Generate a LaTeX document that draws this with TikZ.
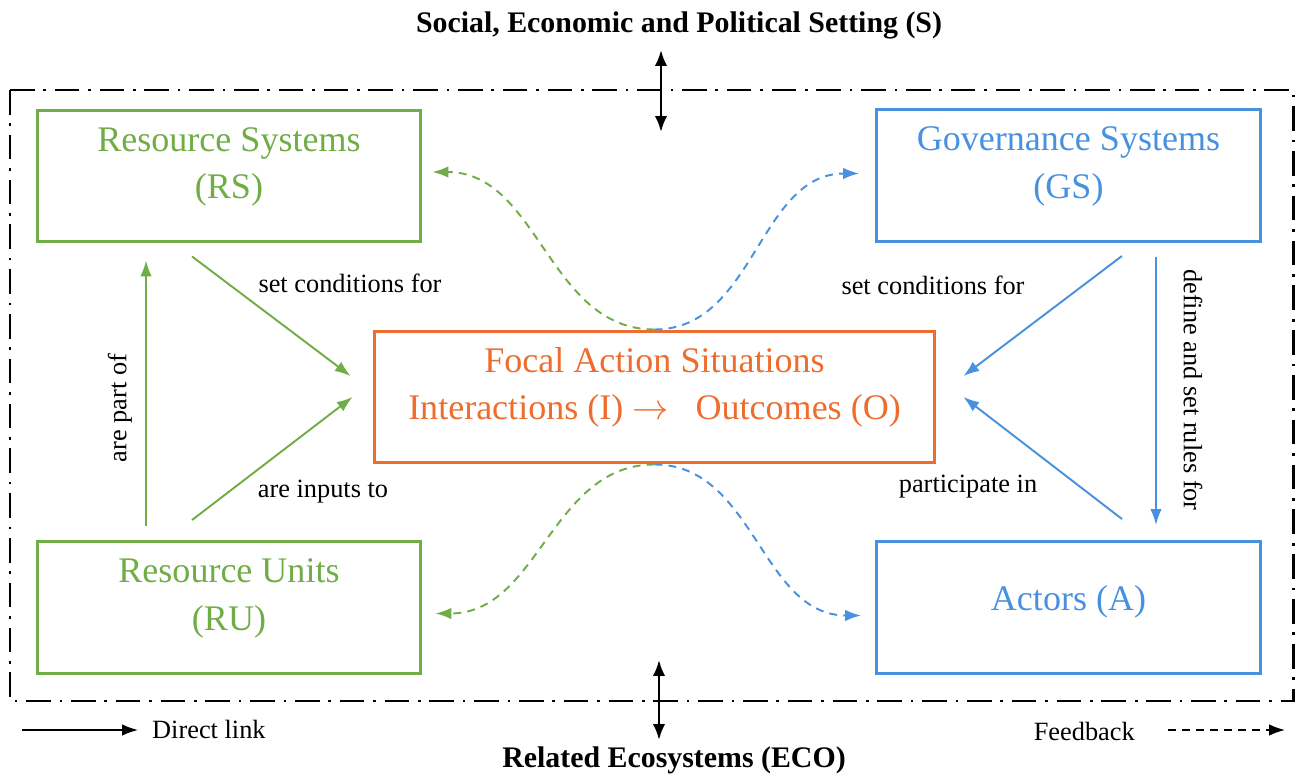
\documentclass[tikz,border=0pt]{standalone}
\usepackage{fontspec}
\setmainfont{Liberation Serif}
\usetikzlibrary{arrows.meta}

\definecolor{rsgreen}{RGB}{112,173,71}
\definecolor{gsblue}{RGB}{72,145,222}
\definecolor{fasorange}{RGB}{238,108,45}

\begin{document}
\begin{tikzpicture}[x=0.02cm, y=-0.02cm,
    sysbox/.style={draw, line width=1.7pt, minimum width=7.68cm, minimum height=2.64cm},
    boxtext/.style={align=center, font=\fontsize{20.5}{27}\selectfont},
    lbl/.style={font=\fontsize{15}{18}\selectfont},
    heading/.style={font=\fontsize{17}{20}\selectfont\bfseries},
    dlink/.style={-{Latex[length=9pt,width=6.5pt]}, line width=1.1pt},
    fb/.style={-{Latex[length=9pt,width=6.5pt]}, line width=1.1pt, dash pattern=on 4.5pt off 3.5pt},
    bothway/.style={{Latex[length=9pt,width=7pt]}-{Latex[length=9pt,width=7pt]}, line width=1.4pt}]
    \useasboundingbox (0,0) rectangle (1296,776);

    % 外框
    \draw[line width=1.7pt, dash pattern=on 14pt off 5pt on 1.5pt off 5pt] (10,90) rectangle (1293,701);

    % 四个子系统
    \node[sysbox, rsgreen] (RS) at (229,176) {};
    \node[boxtext, rsgreen] (RStxt) at ([yshift=0.18cm]RS.center) {Resource Systems\\(RS)};
    \node[sysbox, gsblue] (GS) at (1068.5,175.5) {};
    \node[boxtext, gsblue] (GStxt) at ([yshift=0.18cm]GS.center) {Governance Systems\\(GS)};
    \node[sysbox, rsgreen] (RU) at (229,607.5) {};
    \node[boxtext, rsgreen] (RUtxt) at ([yshift=0.18cm]RU.center) {Resource Units\\(RU)};
    \node[sysbox, gsblue] (A) at (1068.5,607.5) {};
    \node[boxtext, gsblue] (Atxt) at ([yshift=0.12cm]A.center) {Actors (A)};

    % 中间的行动情境
    \node[sysbox, fasorange, minimum width=11.22cm] (FAS) at (654.5,397) {};
    \node[boxtext, fasorange] (FAStxt) at ([yshift=0.19cm]FAS.center)
        {Focal Action Situations\\Interactions (I) $\rightarrow$\ \ \ Outcomes (O)};

    % 直接联系
    \draw[dlink, rsgreen] ([xshift=-0.74cm,yshift=-0.26cm]RS.south) -- ([xshift=-0.44cm,yshift=0.42cm]FAS.west);
    \draw[dlink, rsgreen] ([xshift=-0.74cm,yshift=0.4cm]RU.north) -- ([xshift=-0.4cm]FAS.west);
    \draw[dlink, rsgreen] ([xshift=-1.66cm,yshift=0.28cm]RU.north) -- ([xshift=-1.66cm,yshift=-0.34cm]RS.south);
    \draw[dlink, gsblue] ([xshift=1.07cm,yshift=-0.26cm]GS.south) -- ([xshift=0.54cm,yshift=0.42cm]FAS.east);
    \draw[dlink, gsblue] ([xshift=1.07cm,yshift=0.42cm]A.north) -- ([xshift=0.54cm]FAS.east);
    \draw[dlink, gsblue] ([xshift=1.75cm,yshift=-0.28cm]GS.south) -- ([xshift=1.75cm,yshift=0.3cm]A.north);

    \node[lbl] (lrs) at (350,283) {set conditions for};
    \node[lbl] (lru) at (323,492) {are inputs to};
    \node[lbl, rotate=90] (lpart) at (120,408) {are part of};
    \node[lbl] (lgs) at (933,285) {set conditions for};
    \node[lbl] (la) at (968,487) {participate in};
    \node[lbl, rotate=-90] (lrules) at (1193,390) {define and set rules for};

    % 反馈
    \draw[fb, rsgreen] (FAS.north) to[out=180, in=0] ([xshift=0.2cm,yshift=0.08cm]RS.east);
    \draw[fb, gsblue] (FAS.north) to[out=0, in=180] ([xshift=-0.32cm,yshift=0.04cm]GS.west);
    \draw[fb, rsgreen] (FAS.south) to[out=180, in=0] ([xshift=0.26cm,yshift=-0.12cm]RU.east);
    \draw[fb, gsblue] (FAS.south) to[out=0, in=180] ([xshift=-0.28cm,yshift=-0.16cm]A.west);

    % 外部环境
    \node[heading] (S) at (679,25) {Social, Economic and Political Setting (S)};
    \node[heading] (ECO) at (674,760) {Related Ecosystems (ECO)};
    \coordinate (stop) at (661,50);
    \coordinate (sbot) at (661,132);
    \draw[bothway] (stop) -- (sbot);
    \coordinate (etop) at (659,660);
    \coordinate (ebot) at (659,740);
    \draw[bothway] (etop) -- (ebot);

    % 图例
    \coordinate (dla) at (22,730);
    \coordinate (dlb) at (138,730);
    \draw[dlink, line width=0.9pt] (dla) -- (dlb);
    \node[lbl, anchor=west] (ldl) at (146,729) {Direct link};
    \node[lbl, anchor=east] (lfb) at (1141,731) {Feedback};
    \coordinate (fba) at (1168,730);
    \coordinate (fbb) at (1285,730);
    \draw[fb, line width=0.9pt] (fba) -- (fbb);
\end{tikzpicture}
\end{document}
